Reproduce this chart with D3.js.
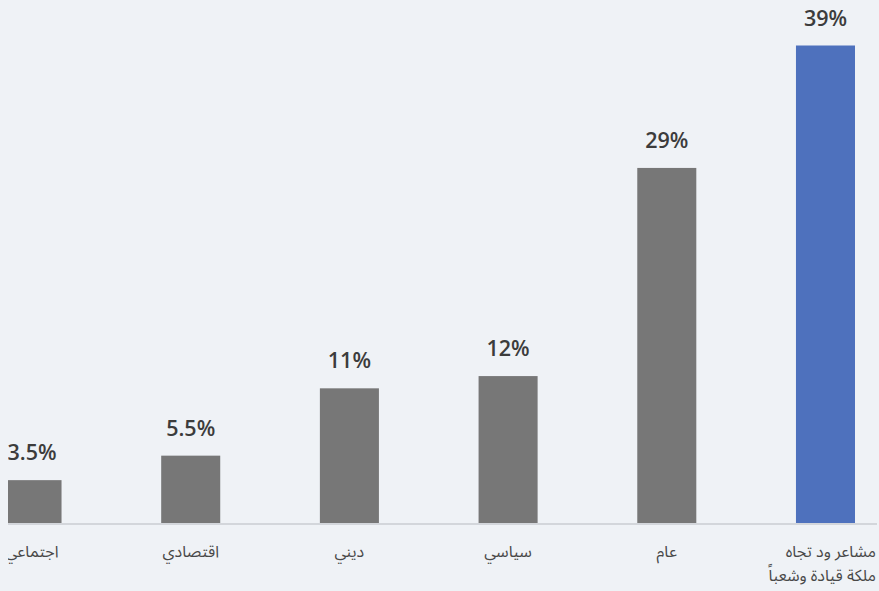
<!DOCTYPE html>
<html>
<head>
<meta charset="utf-8">
<script src="https://cdn.jsdelivr.net/npm/d3@7"></script>
<style>
  html, body { margin: 0; padding: 0; background: #eff2f6; }
  svg { display: block; }
</style>
</head>
<body>
<div id="chart"></div>
<script>
// Data (left to right as drawn)
const categories = ["اجتماعي", "اقتصادي", "ديني", "سياسي", "عام", "مشاعر ود تجاه|ملكة قيادة وشعباً"];
const values = [3.5, 5.5, 11, 12, 29, 39];
const valueLabels = ["3.5%", "5.5%", "11%", "12%", "29%", "39%"];
const highlight = [false, false, false, false, false, true];

const W = 879, H = 591;
const baseY = 523, topY = 45.5;

const svg = d3.select("#chart").append("svg")
  .attr("width", W).attr("height", H);

svg.append("rect").attr("width", W).attr("height", H).attr("fill", "#eff2f6");

svg.append("defs").append("clipPath").attr("id", "clip")
  .append("rect").attr("x", 8).attr("y", 0).attr("width", W - 8).attr("height", H);

const g = svg.append("g").attr("clip-path", "url(#clip)");

const x = d3.scaleBand()
  .domain(categories)
  .range([2.5, 855])
  .paddingInner(0.628)
  .paddingOuter(0)
  .align(0);

const y = d3.scaleLinear().domain([0, 39]).range([baseY, topY]);

// baseline
g.append("line")
  .attr("x1", 0).attr("x2", 877)
  .attr("y1", baseY + 1).attr("y2", baseY + 1)
  .attr("stroke", "#d3d6db").attr("stroke-width", 2);

const data = categories.map((c, i) => ({ c, v: values[i], l: valueLabels[i], h: highlight[i] }));

g.selectAll("rect.bar").data(data).enter().append("rect")
  .attr("class", "bar")
  .attr("x", d => x(d.c))
  .attr("y", d => y(d.v))
  .attr("width", x.bandwidth())
  .attr("height", d => y(0) - y(d.v))
  .attr("fill", d => d.h ? "#4e71bd" : "#777777");

g.selectAll("text.val").data(data).enter().append("text")
  .attr("class", "val")
  .attr("x", d => x(d.c) + x.bandwidth() / 2)
  .attr("y", d => y(d.v) - 20)
  .attr("text-anchor", "middle")
  .attr("font-family", "'Open Sans', 'Noto Sans', sans-serif")
  .attr("font-weight", 600)
  .attr("font-size", 21.5)
  .attr("fill", "#3c3c3c")
  .text(d => d.l);

const labelFont = "'Noto Sans Arabic', 'DejaVu Sans', sans-serif";
data.forEach((d, i) => {
  const lines = d.c.split("|");
  const last = i === data.length - 1;
  const t = g.append("text")
    .attr("font-family", labelFont)
    .attr("font-size", 16)
    .attr("fill", "#484848")
    .attr("text-anchor", last ? "end" : "middle");
  lines.forEach((ln, j) => {
    t.append("tspan")
      .attr("x", last ? 876 : x(d.c) + x.bandwidth() / 2)
      .attr("y", 557 + j * 24)
      .text(ln);
  });
});
</script>
</body>
</html>
